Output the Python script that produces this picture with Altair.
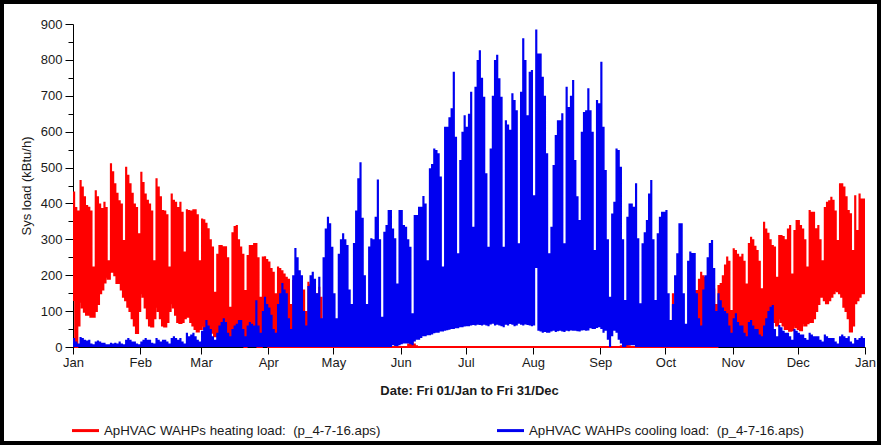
import altair as alt
import pandas as pd

# ---------------- labels / ticks ----------------
MONTH_LABELS = ["Jan", "Feb", "Mar", "Apr", "May", "Jun", "Jul", "Aug", "Sep", "Oct", "Nov", "Dec", "Jan"]
MONTH_START_DAY = [0, 31, 59, 90, 120, 151, 181, 212, 243, 273, 304, 334, 365]
Y_TICKS = [0, 50, 100, 150, 200, 250, 300, 350, 400, 450, 500, 550, 600, 650, 700, 750, 800, 850, 900]

HEAT_NAME = "ApHVAC WAHPs heating load:\u00a0 (p_4-7-16.aps)"
COOL_NAME = "ApHVAC WAHPs cooling load:\u00a0 (p_4-7-16.aps)"

# ---------------- daily values (kBtu/h), one row per week: Fri..Thu ----------------
HEAT_MAX_WEEKS = [
    [433, 390, 380, 465, 447, 420, 396], [391, 380, 224, 437, 420, 400, 387],
    [405, 390, 242, 512, 490, 456, 430], [409, 400, 298, 502, 480, 456, 430],
    [400, 390, 317, 488, 460, 428, 410], [400, 380, 242, 470, 447, 420, 382],
    [380, 370, 224, 428, 410, 405, 390], [405, 377, 266, 384, 382, 380, 384],
    [384, 370, 242, 358, 356, 346, 331], [300, 280, 154, 260, 284, 284, 281],
    [281, 250, 112, 320, 337, 340, 300], [280, 260, 159, 256, 284, 284, 290],
    [290, 250, 140, 252, 253, 245, 238], [220, 210, 150, 224, 220, 214, 205],
    [196, 190, 120, 187, 180, 175, 170], [170, 160, 100, 182, 175, 160, 136],
    [150, 168, 140, 75, 60, 40, 30], [20, 15, 10, 0, 0, 0, 0],
    [0, 5, 0, 0, 0, 0, 0], [10, 30, 20, 5, 0, 0, 0],
    [0, 20, 10, 0, 0, 0, 0], [0, 0, 0, 0, 0, 0, 0],
    [10, 35, 25, 10, 5, 0, 0], [0, 0, 0, 0, 0, 0, 0],
    [0, 0, 0, 0, 0, 0, 0], [0, 0, 0, 0, 0, 0, 0],
    [0, 0, 0, 0, 0, 0, 0], [0, 0, 0, 0, 0, 0, 0],
    [0, 0, 0, 0, 0, 0, 0], [0, 0, 0, 0, 0, 0, 0],
    [0, 0, 0, 0, 0, 0, 0], [0, 0, 0, 0, 0, 0, 0],
    [0, 0, 0, 0, 0, 0, 0], [0, 0, 0, 0, 0, 0, 0],
    [0, 0, 0, 0, 0, 0, 0], [0, 0, 0, 0, 0, 0, 0],
    [5, 15, 20, 10, 5, 0, 0], [0, 10, 15, 10, 5, 10, 15],
    [10, 20, 10, 5, 0, 10, 20], [10, 5, 0, 150, 120, 60, 40],
    [30, 20, 10, 40, 60, 80, 159], [159, 190, 210, 200, 196, 180, 165],
    [170, 163, 120, 173, 178, 200, 230], [252, 240, 103, 275, 270, 260, 252],
    [260, 240, 177, 290, 307, 300, 282], [270, 240, 164, 349, 330, 318, 300],
    [284, 280, 196, 312, 312, 309, 300], [330, 340, 205, 326, 354, 354, 340],
    [330, 300, 224, 382, 377, 377, 331], [340, 300, 242, 390, 405, 409, 419],
    [410, 380, 298, 456, 456, 447, 420], [382, 373, 270, 423, 326, 428, 414],
    [414],
]
HEAT_MIN_WEEKS = [
    [131, 0, 60, 126, 110, 98, 90], [90, 84, 84, 100, 120, 150, 160],
    [180, 196, 190, 210, 210, 200, 178], [178, 160, 140, 130, 112, 100, 80],
    [60, 39, 100, 150, 140, 110, 80], [60, 57, 80, 112, 100, 80, 60],
    [57, 70, 100, 122, 110, 90, 70], [67, 70, 80, 84, 84, 70, 60],
    [50, 43, 50, 60, 50, 47, 45], [47, 40, 30, 40, 30, 20, 30],
    [20, 15, 10, 20, 25, 15, 10], [10, 5, 0, 10, 15, 10, 5],
    [5, 0, 0, 5, 10, 5, 0], [0, 0, 0, 0, 0, 0, 0],
    [0, 0, 0, 0, 0, 0, 0], [0, 0, 0, 0, 0, 0, 0],
    [0, 0, 0, 0, 0, 0, 0], [0, 0, 0, 0, 0, 0, 0],
    [0, 0, 0, 0, 0, 0, 0], [0, 0, 0, 0, 0, 0, 0],
    [0, 0, 0, 0, 0, 0, 0], [0, 0, 0, 0, 0, 0, 0],
    [0, 0, 0, 0, 0, 0, 0], [0, 0, 0, 0, 0, 0, 0],
    [0, 0, 0, 0, 0, 0, 0], [0, 0, 0, 0, 0, 0, 0],
    [0, 0, 0, 0, 0, 0, 0], [0, 0, 0, 0, 0, 0, 0],
    [0, 0, 0, 0, 0, 0, 0], [0, 0, 0, 0, 0, 0, 0],
    [0, 0, 0, 0, 0, 0, 0], [0, 0, 0, 0, 0, 0, 0],
    [0, 0, 0, 0, 0, 0, 0], [0, 0, 0, 0, 0, 0, 0],
    [0, 0, 0, 0, 0, 0, 0], [0, 0, 0, 0, 0, 0, 0],
    [0, 0, 0, 0, 0, 0, 0], [0, 0, 0, 0, 0, 0, 0],
    [0, 0, 0, 0, 0, 0, 0], [0, 0, 0, 0, 0, 0, 0],
    [0, 0, 0, 0, 0, 0, 0], [0, 0, 0, 0, 0, 0, 0],
    [0, 0, 0, 10, 20, 30, 33], [30, 20, 20, 30, 33, 30, 29],
    [29, 25, 30, 33, 35, 33, 33], [33, 30, 19, 25, 33, 40, 60],
    [75, 70, 60, 80, 70, 60, 50], [50, 45, 47, 60, 55, 50, 47],
    [66, 60, 66, 70, 70, 80, 100], [120, 140, 140, 130, 122, 130, 140],
    [150, 159, 155, 150, 140, 112, 100], [80, 43, 60, 122, 130, 140, 150],
    [150],
]
COOL_MAX_WEEKS = [
    [25, 15, 10, 28, 25, 20, 18], [20, 10, 8, 15, 18, 15, 12],
    [12, 8, 8, 12, 10, 12, 10], [15, 10, 8, 20, 25, 20, 15],
    [15, 10, 8, 15, 20, 25, 20], [20, 12, 10, 25, 20, 15, 20],
    [20, 15, 10, 25, 30, 25, 20], [25, 15, 10, 40, 30, 35, 40],
    [30, 20, 15, 45, 55, 75, 60], [50, 30, 20, 40, 60, 70, 80],
    [70, 40, 30, 50, 60, 65, 75], [75, 50, 30, 60, 70, 65, 60],
    [130, 60, 40, 100, 140, 120, 110], [90, 50, 40, 120, 150, 178, 160],
    [150, 80, 50, 200, 276, 250, 214], [200, 100, 60, 170, 200, 210, 190],
    [150, 196, 80, 250, 330, 363, 345], [279, 150, 80, 260, 300, 317, 300],
    [284, 160, 120, 290, 380, 470, 515], [360, 200, 120, 280, 303, 300, 363],
    [467, 300, 84, 321, 340, 382, 382], [330, 303, 177, 382, 382, 340, 335],
    [300, 279, 94, 368, 368, 391, 391], [421, 400, 242, 498, 510, 553, 549],
    [540, 475, 224, 614, 614, 640, 665], [767, 586, 261, 521, 600, 646, 614],
    [650, 711, 335, 725, 800, 827, 750], [697, 484, 279, 553, 700, 800, 814],
    [749, 697, 279, 632, 620, 605, 707], [688, 660, 289, 711, 860, 800, 646],
    [767, 772, 423, 885, 818, 818, 753], [700, 540, 261, 335, 507, 591, 632],
    [632, 651, 289, 725, 669, 700, 744], [521, 420, 354, 600, 655, 660, 721],
    [660, 600, 270, 688, 679, 795, 614], [493, 300, 140, 372, 405, 553, 549],
    [502, 300, 131, 363, 400, 400, 391], [456, 303, 122, 289, 320, 354, 428],
    [465, 300, 131, 317, 363, 377, 377], [382, 150, 75, 120, 200, 261, 345],
    [345, 150, 65, 240, 266, 262, 262], [150, 80, 60, 160, 200, 250, 290],
    [298, 220, 100, 150, 130, 110, 100], [94, 60, 40, 80, 94, 70, 60],
    [60, 40, 30, 70, 75, 60, 50], [50, 35, 30, 60, 80, 100, 112],
    [117, 50, 30, 61, 55, 45, 40], [40, 30, 20, 50, 45, 40, 35],
    [35, 25, 20, 40, 35, 30, 30], [30, 20, 15, 35, 30, 25, 25],
    [25, 15, 10, 30, 35, 30, 25], [30, 15, 10, 25, 20, 25, 30],
    [25],
]
COOL_MIN_WEEKS = [
    [0, 0, 0, 0, 0, 0, 0], [0, 0, 0, 0, 0, 0, 0],
    [0, 0, 0, 0, 0, 0, 0], [0, 0, 0, 0, 0, 0, 0],
    [0, 0, 0, 0, 0, 0, 0], [0, 0, 0, 0, 0, 0, 0],
    [0, 0, 0, 0, 0, 0, 0], [0, 0, 0, 0, 0, 0, 0],
    [0, 0, 0, 0, 0, 0, 0], [0, 0, 0, 0, 0, 0, 0],
    [0, 0, 0, 0, 0, 0, 0], [0, 0, 0, 0, 0, 0, 0],
    [0, 0, 0, 0, 0, 0, 0], [0, 0, 0, 0, 0, 0, 0],
    [0, 0, 0, 0, 0, 0, 0], [0, 0, 0, 0, 0, 0, 0],
    [0, 0, 0, 0, 0, 0, 0], [0, 0, 0, 0, 0, 0, 0],
    [0, 0, 0, 0, 0, 0, 0], [0, 0, 0, 0, 0, 0, 0],
    [0, 0, 0, 0, 0, 0, 0], [5, 3, 2, 5, 8, 10, 10],
    [10, 8, 5, 15, 20, 20, 25], [30, 30, 33, 33, 35, 38, 40],
    [40, 43, 43, 45, 47, 48, 50], [50, 52, 52, 55, 55, 57, 58],
    [58, 60, 61, 60, 62, 61, 60], [62, 60, 58, 63, 65, 60, 62],
    [60, 58, 55, 62, 60, 64, 62], [58, 60, 65, 62, 60, 63, 61],
    [60, 58, 60, 220, 45, 43, 40], [42, 40, 40, 43, 45, 42, 44],
    [45, 43, 42, 45, 44, 46, 45], [45, 44, 43, 46, 47, 45, 46],
    [52, 50, 50, 53, 55, 50, 40], [45, 20, 0, 30, 45, 40, 20],
    [10, 0, 0, 5, 5, 5, 5], [0, 0, 0, 0, 0, 0, 0],
    [0, 0, 0, 0, 0, 0, 0], [0, 0, 0, 0, 0, 0, 0],
    [0, 0, 0, 0, 0, 0, 0], [0, 0, 0, 0, 0, 0, 0],
    [0, 0, 0, 0, 0, 0, 0], [0, 0, 0, 0, 0, 0, 0],
    [0, 0, 0, 0, 0, 0, 0], [0, 0, 0, 0, 0, 0, 0],
    [0, 0, 0, 0, 0, 0, 0], [0, 0, 0, 0, 0, 0, 0],
    [0, 0, 0, 0, 0, 0, 0], [0, 0, 0, 0, 0, 0, 0],
    [0, 0, 0, 0, 0, 0, 0], [0, 0, 0, 0, 0, 0, 0],
    [0],
]


def flat(rows):
    return [v for r in rows for v in r]


heat_max, heat_min = flat(HEAT_MAX_WEEKS), flat(HEAT_MIN_WEEKS)
cool_max, cool_min = flat(COOL_MAX_WEEKS), flat(COOL_MIN_WEEKS)
assert len(heat_max) == len(heat_min) == len(cool_max) == len(cool_min) == 365


def step_frame(hi, lo, name):
    # day d holds its value until day d+1; the last day is closed at day 365
    days = list(range(366))
    return pd.DataFrame({"day": days, "hi": hi + [hi[-1]], "lo": lo + [lo[-1]], "series": name})


heat_df = step_frame(heat_max, heat_min, HEAT_NAME)
cool_df = step_frame(cool_max, cool_min, COOL_NAME)

FONT = "Liberation Sans"
RED = "#ff0000"
BLUE = "#0000f0"
INK = "#1a1a1a"

month_expr = "".join(f"datum.value == {d} ? '{m}' : " for d, m in zip(MONTH_START_DAY, MONTH_LABELS)) + "''"

X_AXIS = alt.Axis(values=MONTH_START_DAY, labelExpr=month_expr,
                  title="Date: Fri 01/Jan to Fri 31/Dec", titleFontWeight="bold",
                  titleFontSize=13, titlePadding=15, labelFontSize=13, labelPadding=2,
                  tickSize=7, grid=False, labelOverlap=False, labelFlush=False)
Y_AXIS = alt.Axis(values=Y_TICKS,
                  labelExpr="datum.value % 100 == 0 ? datum.label : ''",
                  tickSize={"condition": {"test": "datum.value % 100 == 0", "value": 8}, "value": 5},
                  title="Sys load (kBtu/h)", titleFontWeight="normal", titleFontSize=13,
                  titlePadding=7, labelFontSize=13, labelPadding=3, grid=False,
                  labelOverlap=False, labelBound=False)
X_SCALE = alt.Scale(domain=[0, 365], nice=False, zero=False)
Y_SCALE = alt.Scale(domain=[0, 900], nice=False)
COLOR_SCALE = alt.Scale(domain=[HEAT_NAME, COOL_NAME], range=[RED, BLUE])
LEGEND = alt.Legend(title=None, orient="none", legendX=-1, legendY=393,
                    direction="horizontal",
                    symbolType="M-1,-0.11L1,-0.11L1,0.11L-1,0.11Z",
                    symbolSize=729, symbolStrokeWidth=0, symbolOpacity=1,
                    labelFontSize=13.3, labelLimit=0, labelOffset=5,
                    columnPadding=116, padding=0)


def band(df):
    return alt.Chart(df).mark_area(interpolate="step-after", strokeWidth=0).encode(
        x=alt.X("day:Q", scale=X_SCALE, axis=X_AXIS),
        y=alt.Y("hi:Q", scale=Y_SCALE, axis=Y_AXIS),
        y2="lo:Q",
        color=alt.Color("series:N", scale=COLOR_SCALE, legend=LEGEND),
    )


heat_band = band(heat_df)
heat_floor = alt.Chart(heat_df).mark_line(interpolate="step-after", strokeWidth=2, color=RED).encode(
    x=alt.X("day:Q", scale=X_SCALE, axis=X_AXIS),
    y=alt.Y("lo:Q", scale=Y_SCALE, axis=Y_AXIS),
)
cool_band = band(cool_df)

frame = alt.Chart(pd.DataFrame({"k": [0]})).mark_rect(filled=False, stroke="black", strokeWidth=4).encode(
    x=alt.value(-71), x2=alt.value(806), y=alt.value(-22), y2=alt.value(419))

chart = alt.layer(heat_band, heat_floor, cool_band, frame).properties(
    width=792, height=323,
    padding={"left": 73, "top": 24, "right": 16, "bottom": 98},
    autosize="none",
    background="white",
).configure_view(strokeWidth=0).configure_axis(
    domainColor="black", tickColor="black", labelColor=INK, titleColor=INK,
    labelFont=FONT, titleFont=FONT, labelOverlap=False,
).configure_legend(labelFont=FONT, labelColor=INK)

chart.save("out.html", embed_options={"renderer": "svg", "actions": False})
